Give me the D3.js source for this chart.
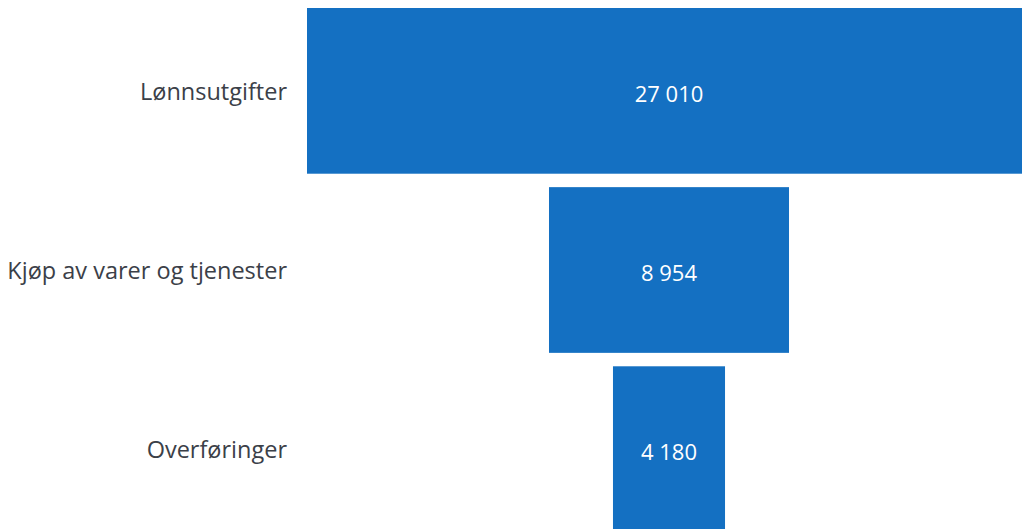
<html>
<head><meta charset="utf-8"></head>
<script src='https://d3js.org/d3.v7.min.js'></script>
<style>
body {margin:0; background:#fff;}
.cat {font-family:'Open Sans', sans-serif; font-size:23.5px; fill:#3b4048;}
.val {font-family:'Open Sans', sans-serif; font-size:22px; fill:#fff;}
</style>
<body>
<svg width=1022 height=529></svg>
<script>
var categories = ['Lønnsutgifter', 'Kjøp av varer og tjenester', 'Overføringer'];
var values = [27010, 8954, 4180];
var valueLabels = ['27 010', '8 954', '4 180'];

var svg = d3.select('svg');
var cx = 669;

ys = d3.scaleBand().domain(categories).range([8, 532]).paddingInner(0.075);
ws = d3.scaleLinear().domain([0, 27010]).range([0, 724]);

svg.selectAll('rect').data(values).enter().append('rect')
.attr('x', function(d) {return cx - ws(d) / 2;})
.attr('y', function(d, i) {return ys(categories[i]);})
.attr('width', function(d) {return ws(d);})
.attr('height', ys.bandwidth())
.attr('fill', '#1470c2');

svg.selectAll('text.val').data(values).enter().append('text')
.attr('class', 'val')
.attr('x', cx)
.attr('y', function(d, i) {return ys(categories[i]) + ys.bandwidth() / 2 + 3;})
.attr('dy', '0.35em')
.attr('text-anchor', 'middle')
.text(function(d, i) {return valueLabels[i];});

svg.selectAll('text.cat').data(categories).enter().append('text')
.attr('class', 'cat')
.attr('x', 287)
.attr('y', function(d) {return ys(d) + ys.bandwidth() / 2 + 1;})
.attr('dy', '0.35em')
.attr('text-anchor', 'end')
.text(function(d) {return d;});
</script>
</body>
</html>
